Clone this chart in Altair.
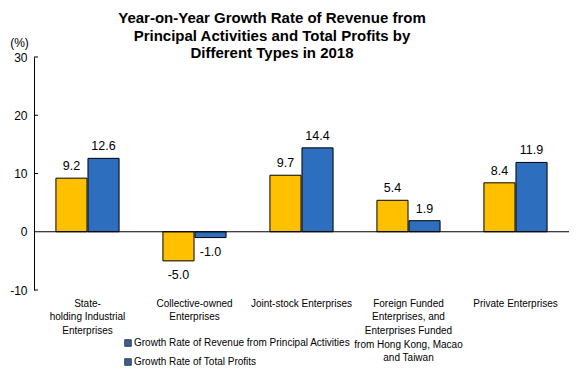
import json
import altair as alt
import pandas as pd

# ---------------- data ----------------
title_lines = [
    "Year-on-Year Growth Rate of Revenue from",
    "Principal Activities and  Total Profits by",
    "Different Types in 2018",
]
categories = [
    "State-holding Industrial Enterprises",
    "Collective-owned Enterprises",
    "Joint-stock Enterprises",
    "Foreign Funded Enterprises, and Enterprises Funded from Hong Kong, Macao and Taiwan",
    "Private Enterprises",
]
category_lines = [
    ["State-", "holding Industrial", "Enterprises"],
    ["Collective-owned", "Enterprises"],
    ["Joint-stock Enterprises"],
    ["Foreign Funded", "Enterprises, and", "Enterprises Funded", "from Hong Kong, Macao", "and Taiwan"],
    ["Private Enterprises"],
]
series = [
    "Growth Rate of Revenue from Principal Activities",
    "Growth Rate of Total Profits",
]
revenue_growth = [9.2, -5.0, 9.7, 5.4, 8.4]
profit_growth = [12.6, -1.0, 14.4, 1.9, 11.9]
y_ticks = [-10, 0, 10, 20, 30]
y_unit = "(%)"

# ---------------- build table ----------------
rows = []
for c, r, p in zip(categories, revenue_growth, profit_growth):
    rows.append({"category": c, "series": series[0], "value": r, "label": f"{r:.1f}"})
    rows.append({"category": c, "series": series[1], "value": p, "label": f"{p:.1f}"})
df = pd.DataFrame(rows)

FONT = "Liberation Sans"
BAR_COLORS = ["#FFC000", "#2E6EBE"]
LEGEND_SWATCH = "#3D5F8C"

label_map = json.dumps(dict(zip(categories, category_lines)))

x_enc = alt.X(
    "category:N",
    sort=categories,
    scale=alt.Scale(paddingInner=0.41, paddingOuter=0.205),
    axis=alt.Axis(
        title=None, domain=False, ticks=False, grid=False, labelAngle=0,
        labelPadding=8, labelLineHeight=13.7, labelFont=FONT,
        labelFontSize=10, labelColor="black", labelLimit=0,
        labelExpr=label_map + "[datum.value]",
    ),
)
xoff_enc = alt.XOffset("series:N", sort=series,
                       scale=alt.Scale(paddingInner=0.03, paddingOuter=0))
y_scale = alt.Scale(domain=[y_ticks[0], y_ticks[-1]], nice=False, zero=False)
y_enc = alt.Y(
    "value:Q",
    scale=y_scale,
    axis=alt.Axis(
        values=y_ticks, ticks=False, grid=False, domain=True,
        domainColor="black", domainWidth=1, labelPadding=7,
        labelFont=FONT, labelFontSize=12, labelColor="black",
        labelExpr="'' + datum.value",
        title=y_unit, titleAngle=0, titleX=-15, titleY=-15,
        titleAlign="center", titleBaseline="middle", titleFont=FONT,
        titleFontSize=12, titleFontWeight="normal", titleColor="black",
    ),
)

base = alt.Chart(df)

bars = base.mark_bar(stroke="black", strokeWidth=1).encode(
    x=x_enc,
    xOffset=xoff_enc,
    y=y_enc,
    color=alt.Color("series:N", scale=alt.Scale(domain=series, range=BAR_COLORS), legend=None),
)

labels_pos = base.transform_filter("datum.value >= 0").mark_text(
    font=FONT, fontSize=12.5, color="black", baseline="middle", dy=-12
).encode(x=alt.X("category:N", sort=categories), xOffset=alt.XOffset("series:N", sort=series),
         y=alt.Y("value:Q"), text=alt.Text("label:N"))

labels_neg = base.transform_filter("datum.value < 0").mark_text(
    font=FONT, fontSize=12.5, color="black", baseline="middle", dy=14
).encode(x=alt.X("category:N", sort=categories), xOffset=alt.XOffset("series:N", sort=series),
         y=alt.Y("value:Q"), text=alt.Text("label:N"))

zero_line = alt.Chart(pd.DataFrame({"value": [0]})).mark_rule(
    color="black", strokeWidth=1
).encode(y=alt.Y("value:Q"))

inner_ticks = alt.Chart(pd.DataFrame({"value": [t for t in y_ticks if t != 0]})).mark_rule(
    color="black", strokeWidth=1
).encode(y=alt.Y("value:Q"), x=alt.value(0), x2=alt.value(4))

title = alt.Chart(pd.DataFrame({"t": ["\n".join(title_lines)]})).mark_text(
    font=FONT, fontSize=15, fontWeight="bold", color="black", align="center",
    baseline="top", lineBreak="\n", lineHeight=17.5,
).encode(text="t:N", x=alt.value(238), y=alt.value(-46))

legend_layers = []
for i, s in enumerate(series):
    ldf = pd.DataFrame({"series": [s]})
    legend_layers.append(
        alt.Chart(ldf).mark_square(size=44, color=LEGEND_SWATCH, stroke="#1E2E44",
                                   strokeWidth=0.8, opacity=1).encode(
            x=alt.value(94), y=alt.value(286 + 19 * i))
    )
    legend_layers.append(
        alt.Chart(ldf).mark_text(font=FONT, fontSize=10, color="black",
                                 align="left", baseline="middle").encode(
            text="series:N", x=alt.value(100), y=alt.value(286 + 19 * i))
    )

chart = alt.layer(
    bars, zero_line, inner_ticks, labels_pos, labels_neg, title, *legend_layers
).properties(
    width=535, height=233,
    autosize=alt.AutoSizeParams(type="none"),
    padding={"left": 26, "top": 49, "right": 0, "bottom": 77},
    background="white",
).configure_view(stroke=None)

chart.save("out.html", embed_options={"renderer": "svg", "actions": False})
